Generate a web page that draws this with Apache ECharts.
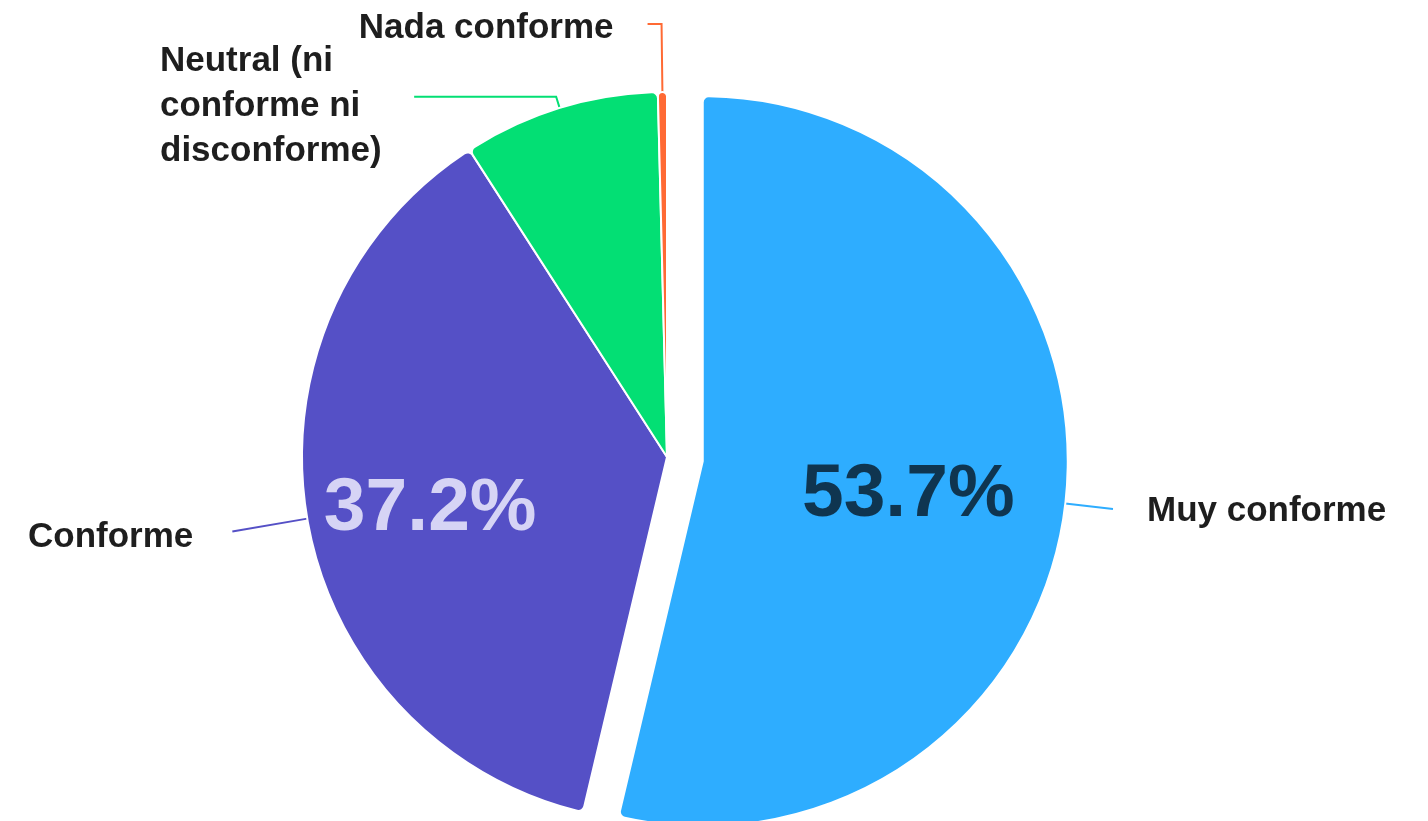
<!DOCTYPE html>
<html>
<head>
<meta charset="utf-8">
<title>Conformidad</title>
<script src="https://cdn.jsdelivr.net/npm/echarts@6/dist/echarts.min.js"></script>
<style>
  html,body{margin:0;padding:0;background:#fff}
  #chart{width:1428px;height:821px}
</style>
</head>
<body>
<div id="chart"></div>
<script>
// ---------- 数据 ----------
const categories = ['Muy conforme', 'Conforme', 'Neutral (ni\nconforme ni\ndisconforme)', 'Nada conforme'];
const values = [53.7, 37.2, 8.7, 0.4];
const colors = ['#2eadff', '#5550c6', '#03df74', '#ff6a34'];
const pctColors = ['#0f3550', '#d6d4f5', '#ffffff', '#ffffff'];

// 每个扇区的外部标签线设定（sp: 顶部留白，用来把文字往下挪）
const lineSet = [
  {length: 48, length2: 0, alignTo: 'none', sp: 4},
  {length: 76, length2: 0, alignTo: 'none', sp: 12, dist: 39},
  {length: 12, length2: 142, alignTo: 'edge', edgeDistance: 160, sp: 20},
  {length: 68, length2: 14, alignTo: 'none', sp: 8}
];
// 内部百分比标签的微调
const pctShiftX = [32, 34, 0, 0];
const pctShiftY = [16, 30, 0, 0];

const chart = echarts.init(document.getElementById('chart'));

const center = [667, 457];
const R = 365;
const FONT = '"Liberation Sans", Arial, sans-serif';

const txt = {color: '#1e1e1e', fontFamily: FONT, fontWeight: 'bold', fontSize: 35, lineHeight: 45};

const outerData = categories.map((c, i) => ({
  name: c,
  value: values[i],
  selected: i === 0,
  itemStyle: {color: colors[i]},
  label: {
    alignTo: lineSet[i].alignTo,
    edgeDistance: lineSet[i].edgeDistance || 0,
    distanceToLabelLine: lineSet[i].dist || 34,
    formatter: '{s|}\n' + c.split('\n').map(l => '{t|' + l + '}').join('\n'),
    rich: {s: {height: lineSet[i].sp, lineHeight: lineSet[i].sp, fontSize: 1}, t: txt}
  },
  labelLine: {
    length: lineSet[i].length,
    length2: lineSet[i].length2,
    lineStyle: {color: colors[i], width: 2}
  }
}));

const innerData = categories.map((c, i) => ({
  name: c,
  value: values[i],
  selected: i === 0,
  label: {
    show: i < 2,
    padding: [0, pctShiftX[i], 0, 0],
    formatter: '{s|}\n{v|' + values[i].toFixed(1) + '%}',
    rich: {
      s: {height: pctShiftY[i] || 1, lineHeight: pctShiftY[i] || 1, fontSize: 1},
      v: {color: pctColors[i], fontFamily: FONT, fontWeight: 'bold', fontSize: 75, lineHeight: 80}
    }
  }
}));

chart.setOption({
  animation: false,
  series: [
    {
      type: 'pie',
      center: center,
      radius: [0, R],
      clockwise: true,
      startAngle: 90,
      selectedMode: 'single',
      selectedOffset: 36,
      avoidLabelOverlap: false,
      labelLayout: {hideOverlap: false},
      itemStyle: {borderColor: '#fff', borderWidth: 2, borderRadius: 6},
      label: {show: true, position: 'outside'},
      labelLine: {show: true, minTurnAngle: 0, maxSurfaceAngle: 180},
      emphasis: {disabled: true},
      data: outerData
    },
    {
      type: 'pie',
      silent: true,
      center: center,
      radius: [80, 360],
      startAngle: 90,
      selectedMode: 'single',
      selectedOffset: 36,
      itemStyle: {color: 'rgba(0,0,0,0)'},
      label: {show: true, position: 'inside'},
      labelLine: {show: false},
      emphasis: {disabled: true},
      data: innerData
    }
  ]
});
</script>
</body>
</html>
